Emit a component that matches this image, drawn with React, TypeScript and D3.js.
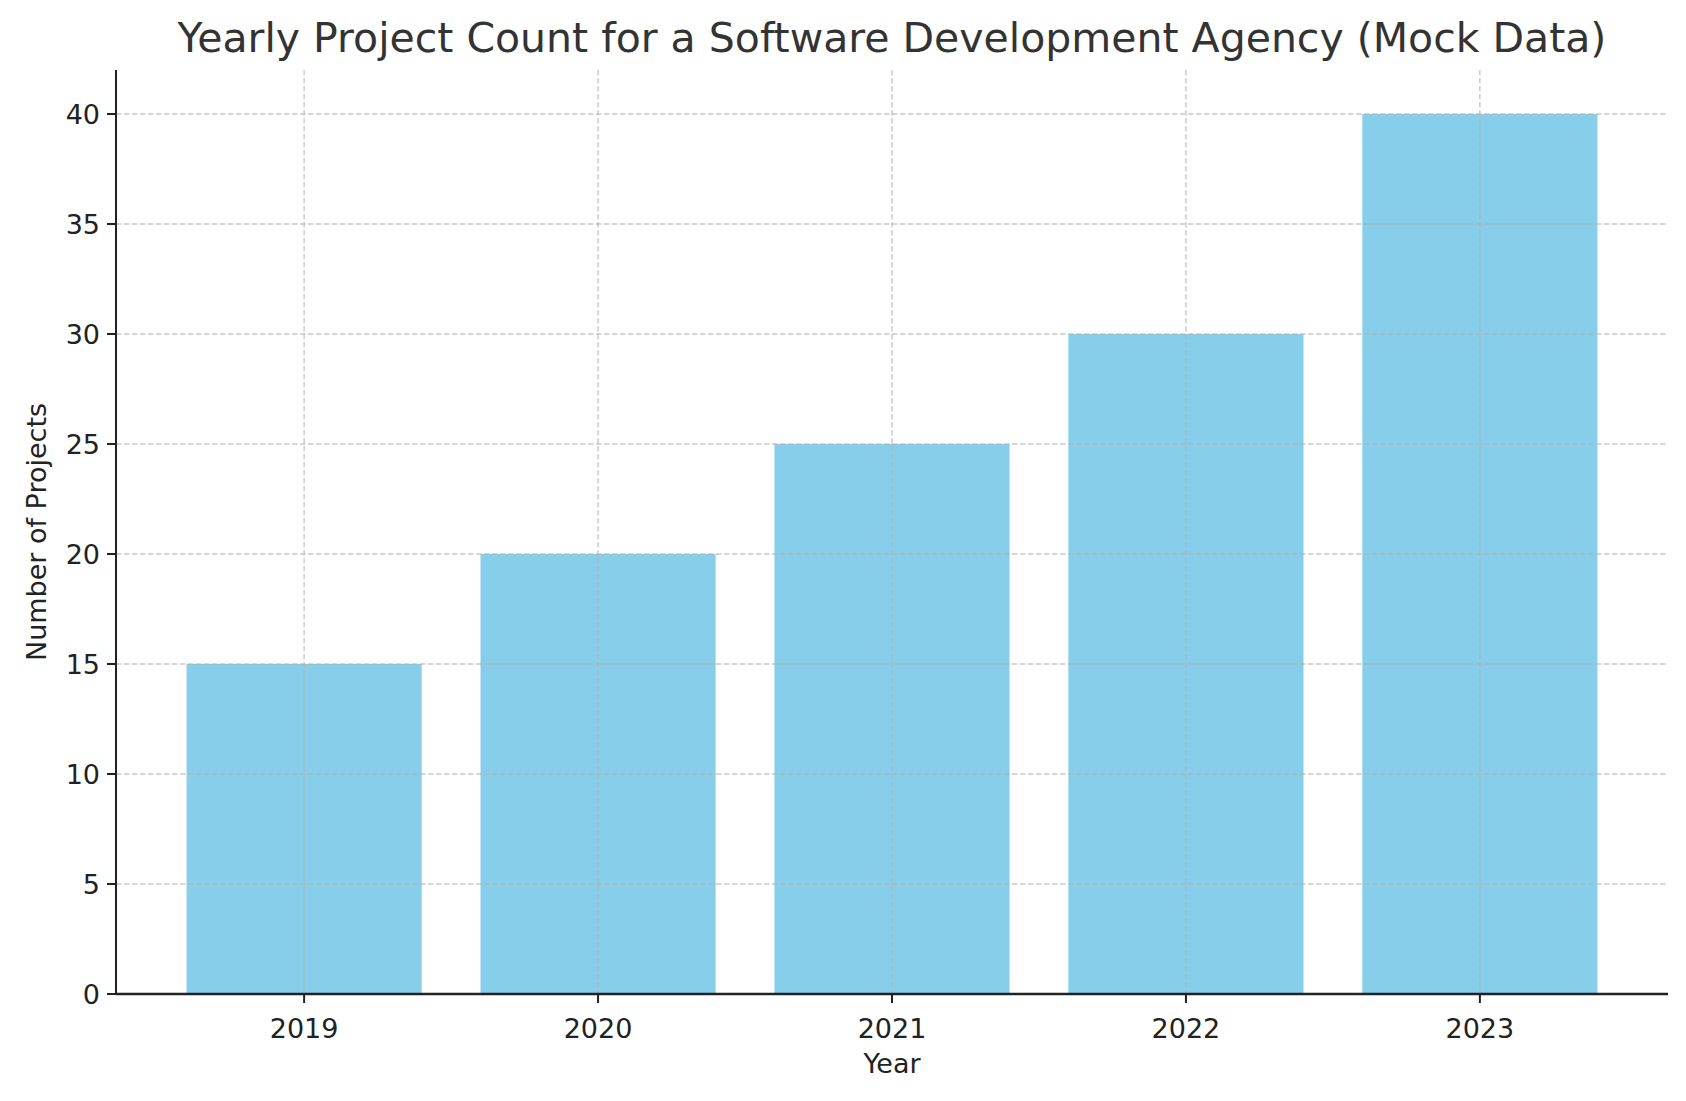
import React from "react";
import * as d3 from "d3";

const years = ["2019", "2020", "2021", "2022", "2023"];
const projects = [15, 20, 25, 30, 40];
const yTicks = [0, 5, 10, 15, 20, 25, 30, 35, 40];

export default function App() {
  const W = 1686, H = 1101;
  const L = 116, R = 1668, T = 70, B = 994;
  const step = (R - L) / 5.28;
  const x = (i: number) => L + step * (0.64 + i);
  const bw = step * 0.8;
  const y = d3.scaleLinear().domain([0, 42]).range([B, T]);
  const font = "DejaVu Sans";
  return (
    <svg width={W} height={H} style={{ position: "absolute", left: 0, top: 0 }} fontFamily={font}>
      <rect width={W} height={H} fill="white" />
      {projects.map((v, i) => (
        <rect key={i} x={x(i) - bw / 2} y={y(v)} width={bw} height={B - y(v)} fill="#87CEEB" />
      ))}
      {yTicks.map(t => (
        <line key={"g" + t} x1={L} x2={R} y1={y(t)} y2={y(t)} stroke="#b0b0b0" strokeOpacity={0.7} strokeWidth={1.4} strokeDasharray="5.5,2.5" />
      ))}
      {years.map((_, i) => (
        <line key={"v" + i} x1={x(i)} x2={x(i)} y1={T} y2={B} stroke="#b0b0b0" strokeOpacity={0.7} strokeWidth={1.4} strokeDasharray="5.5,2.5" />
      ))}
      <line x1={L} x2={L} y1={T} y2={B} stroke="#222" strokeWidth={2} />
      <line x1={L} x2={R} y1={B} y2={B} stroke="#222" strokeWidth={2.5} />
      {yTicks.map(t => (
        <g key={"yt" + t}>
          <line x1={L - 9} x2={L} y1={y(t)} y2={y(t)} stroke="#222" strokeWidth={2} />
          <text x={L - 16} y={y(t)} dy="0.36em" textAnchor="end" fontSize={27} fill="#222">{t}</text>
        </g>
      ))}
      {years.map((yr, i) => (
        <g key={"xt" + i}>
          <line x1={x(i)} x2={x(i)} y1={B} y2={B + 9} stroke="#222" strokeWidth={2} />
          <text x={x(i)} y={B + 44} textAnchor="middle" fontSize={27} fill="#222">{yr}</text>
        </g>
      ))}
      <text x={(L + R) / 2} y={1073} textAnchor="middle" fontSize={27} fill="#222">Year</text>
      <text transform={`translate(46,${(T + B) / 2}) rotate(-90)`} textAnchor="middle" fontSize={27} fill="#222">Number of Projects</text>
      <text x={(L + R) / 2} y={52} textAnchor="middle" fontSize={41} fill="#333">Yearly Project Count for a Software Development Agency (Mock Data)</text>
    </svg>
  );
}
